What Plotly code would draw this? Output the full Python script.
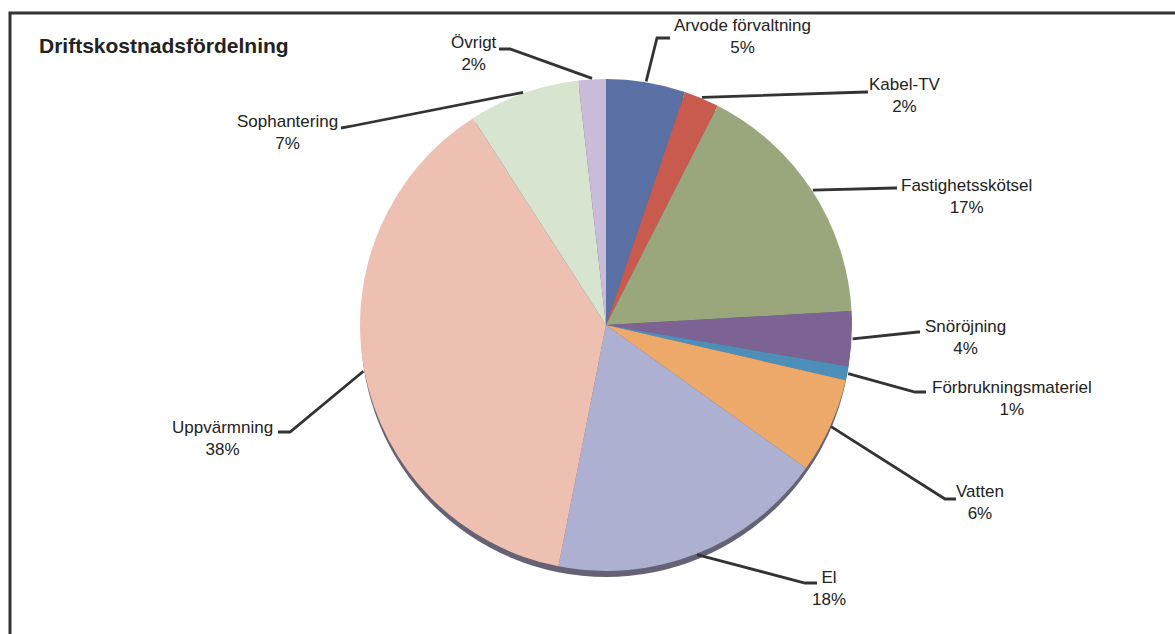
import math
import plotly.graph_objects as go

# ---- data ----
categories = ["Arvode förvaltning", "Kabel-TV", "Fastighetsskötsel", "Snöröjning",
              "Förbrukningsmateriel", "Vatten", "El", "Uppvärmning", "Sophantering", "Övrigt"]
values = [5.2, 2.3, 16.6, 3.6, 0.9, 6.3, 18.2, 37.8, 7.3, 1.8]
colors = ["#5a70a4", "#c85a4e", "#9aa67c", "#7d6394", "#4d8fb8",
          "#eda96a", "#aeb0d2", "#eec0b2", "#d6e4d0", "#c8bcd8"]
title_text = "Driftskostnadsfördelning"

# ---- layout geometry (pixels) ----
W, H = 1175, 634
CX, CY, R = 606, 325, 246
label_pos = {  # text block centre
    "Arvode förvaltning": (742, 37), "Kabel-TV": (905, 96), "Fastighetsskötsel": (966, 196),
    "Snöröjning": (965, 337), "Förbrukningsmateriel": (1012, 398), "Vatten": (980, 503),
    "El": (829, 588), "Uppvärmning": (222, 438), "Sophantering": (287, 132), "Övrigt": (474, 53),
}
leader_pts = {  # elbow, end
    "Arvode förvaltning": [(657, 38), (670, 38)], "Kabel-TV": [(866, 92), (868, 92)],
    "Fastighetsskötsel": [(895, 188), (897, 188)], "Snöröjning": [(918, 332), (920, 332)],
    "Förbrukningsmateriel": [(915, 392), (926, 392)], "Vatten": [(945, 499), (956, 499)],
    "El": [(805, 583), (817, 583)], "Uppvärmning": [(290, 432), (278, 432)],
    "Sophantering": [(352, 126), (341, 128)], "Övrigt": [(510, 49), (499, 49)],
}

def px(x):
    return x / W

def py(y):
    return 1 - y / H

total = sum(values)
fig = go.Figure()
fig.add_trace(go.Pie(
    labels=categories, values=values, sort=False, direction="clockwise", rotation=0,
    marker=dict(colors=colors, line=dict(width=0)), textinfo="none", hoverinfo="label+percent",
    domain=dict(x=[px(CX - R), px(CX + R)], y=[py(CY + R), py(CY - R)]), showlegend=False,
))

shapes = [
    # frame
    dict(type="rect", xref="paper", yref="paper", x0=px(10), x1=px(1185), y0=py(650), y1=py(13),
         line=dict(color="#333333", width=3), fillcolor="rgba(0,0,0,0)", layer="below"),
    # 3D bottom edge
    dict(type="circle", xref="paper", yref="paper", x0=px(CX - R + 1), x1=px(CX + R - 1),
         y0=py(CY + R + 6), y1=py(CY - R + 6), line=dict(width=0), fillcolor="#646274", layer="below"),
]
annotations = [dict(x=px(37), y=py(45), xref="paper", yref="paper", xanchor="left", yanchor="middle",
                    text="<b>" + title_text + "</b>", showarrow=False,
                    font=dict(family="Liberation Sans, Arial", size=21, color="#222222"))]

cum = 0
for cat, v in zip(categories, values):
    mid = (cum + v / 2) / total * 2 * math.pi
    cum += v
    sx = CX + (R + 1) * math.sin(mid)
    sy = CY - (R + 1) * math.cos(mid)
    (ex, ey), (fx, fy) = leader_pts[cat]
    path = f"M {px(sx)},{py(sy)} L {px(ex)},{py(ey)} L {px(fx)},{py(fy)}"
    shapes.append(dict(type="path", xref="paper", yref="paper", path=path,
                       line=dict(color="#333333", width=2.8)))
    lx, ly = label_pos[cat]
    pct = round(v / total * 100)
    annotations.append(dict(x=px(lx), y=py(ly), xref="paper", yref="paper", xanchor="center",
                            yanchor="middle", text=f"{cat}<br>{pct}%", showarrow=False, align="center",
                            font=dict(family="Liberation Sans, Arial", size=17, color="#222222")))

fig.update_layout(width=W, height=H, margin=dict(l=0, r=0, t=0, b=0),
                  paper_bgcolor="white", plot_bgcolor="white",
                  shapes=shapes, annotations=annotations)
fig.write_html("out.html")
